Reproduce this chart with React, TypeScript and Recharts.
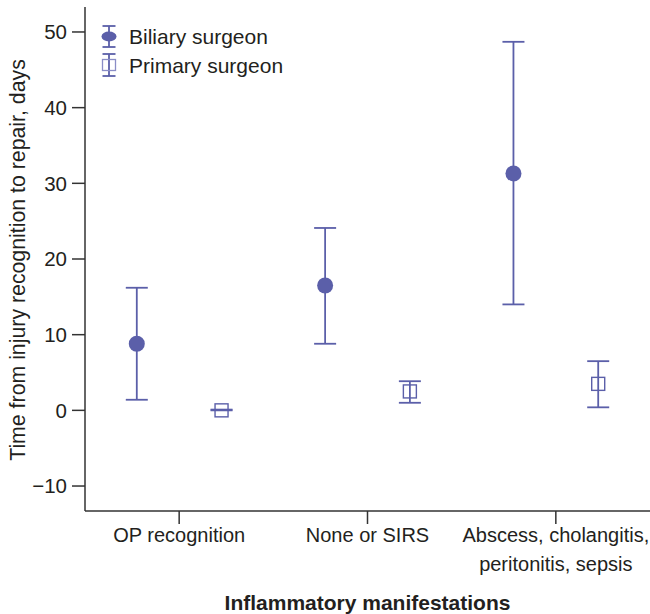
import React from 'react';
import { ScatterChart, Scatter, XAxis, YAxis, ErrorBar, Legend } from 'recharts';

const categories = ['OP recognition', 'None or SIRS', 'Abscess, cholangitis, peritonitis, sepsis'];
const categoryLines = [['OP recognition'], ['None or SIRS'], ['Abscess, cholangitis,', 'peritonitis, sepsis']];

const biliaryMean = [8.8, 16.5, 31.3];
const biliaryLow = [1.4, 8.8, 14.0];
const biliaryHigh = [16.2, 24.1, 48.7];

const primaryMean = [0.0, 2.5, 3.5];
const primaryLow = [0.0, 1.0, 0.4];
const primaryHigh = [0.1, 3.85, 6.5];

const yTicks = [-10, 0, 10, 20, 30, 40, 50];
const seriesNames = ['Biliary surgeon', 'Primary surgeon'];

const COLOR = '#5b5fa9';
const TEXT = '#231f20';
const AXIS = '#333333';
const FONT = '"Liberation Sans", Arial, Helvetica, sans-serif';
const OFFSET = 0.225;

const build = (mean: number[], low: number[], high: number[], shift: number) =>
  categories.map((c, i) => ({
    x: i + 0.5 + shift,
    y: mean[i],
    err: [mean[i] - low[i], high[i] - mean[i]],
    name: c,
  }));

const biliaryData = build(biliaryMean, biliaryLow, biliaryHigh, -OFFSET);
const primaryData = build(primaryMean, primaryLow, primaryHigh, OFFSET);

const CircleShape = (props: any) => {
  const { cx, cy } = props;
  return <circle cx={cx} cy={cy} r={8} fill={COLOR} />;
};

const SquareShape = (props: any) => {
  const { cx, cy } = props;
  return <rect x={cx - 6.5} y={cy - 6.5} width={13} height={13} fill="none" stroke={COLOR} strokeWidth={1.4} />;
};

const XTick = (props: any) => {
  const { x, y, payload } = props;
  const idx = Math.round(payload.value - 0.5);
  const lines = categoryLines[idx] || [];
  return (
    <g>
      {lines.map((l, k) => (
        <text key={k} x={x} y={y + 14 + k * 29} textAnchor="middle" fontSize={20} fill={TEXT} fontFamily={FONT}>
          {l}
        </text>
      ))}
    </g>
  );
};

const renderLegend = () => (
  <svg width={200} height={70} style={{ display: 'block', overflow: 'visible' }}>
    <g stroke={COLOR} strokeWidth={1.8}>
      <line x1={109} y1={26} x2={109} y2={47} />
      <line x1={102.5} y1={26} x2={115.5} y2={26} />
      <line x1={102.5} y1={47} x2={115.5} y2={47} />
      <line x1={109} y1={54} x2={109} y2={76} />
      <line x1={102.5} y1={54} x2={115.5} y2={54} />
      <line x1={102.5} y1={76} x2={115.5} y2={76} />
    </g>
    <ellipse cx={109} cy={36.5} rx={7.5} ry={5} fill={COLOR} />
    <rect x={102.5} y={59.5} width={13} height={11} fill="none" stroke="#8a8dc6" strokeWidth={1.3} />
    <text x={129} y={44} fontSize={21} fill={TEXT} fontFamily={FONT}>{seriesNames[0]}</text>
    <text x={129} y={73} fontSize={21} fill={TEXT} fontFamily={FONT}>{seriesNames[1]}</text>
  </svg>
);

export default function App() {
  return (
    <div style={{ position: 'absolute', left: 0, top: 0, width: 650, height: 614, background: '#fff' }}>
      <ScatterChart width={650} height={614} margin={{ top: 7, right: 0, bottom: 0, left: 0 }}>
        <XAxis
          type="number"
          dataKey="x"
          domain={[0, 3]}
          ticks={[0.5, 1.5, 2.5]}
          allowDataOverflow
          height={103}
          tickSize={13}
          tickMargin={4}
          tick={<XTick />}
          axisLine={{ stroke: AXIS, strokeWidth: 1.5 }}
          tickLine={{ stroke: AXIS, strokeWidth: 1.5 }}
          label={{
            content: (p: any) => {
              const vb = p.viewBox || {};
              return (
                <text x={vb.x + vb.width / 2} y={vb.y + 99} textAnchor="middle" fontSize={21} fontWeight="bold" fill={TEXT} fontFamily={FONT}>
                  Inflammatory manifestations
                </text>
              );
            },
          }}
        />
        <YAxis
          type="number"
          dataKey="y"
          domain={[-13.3, 53.3]}
          ticks={yTicks}
          allowDataOverflow
          width={85}
          tickSize={13}
          tickMargin={5}
          tick={{ fontSize: 20.5, fill: TEXT, fontFamily: FONT }}
          axisLine={{ stroke: AXIS, strokeWidth: 1.5 }}
          tickLine={{ stroke: AXIS, strokeWidth: 1.5 }}
          tickFormatter={(v: number) => (v < 0 ? '\u2212' + Math.abs(v) : String(v))}
          label={{
            content: () => {
              const cy = 260;
              return (
                <text x={18} y={cy} transform={`rotate(-90, 18, ${cy})`} textAnchor="middle" dominantBaseline="central" fontSize={21.3} fill={TEXT} fontFamily={FONT}>
                  Time from injury recognition to repair, days
                </text>
              );
            },
          }}
        />
        <Legend layout="vertical" align="center" verticalAlign="middle" content={renderLegend} wrapperStyle={{ left: 0, top: 0, width: 300 }} />
        <Scatter name={seriesNames[0]} data={biliaryData} shape={<CircleShape />} isAnimationActive={false}>
          <ErrorBar dataKey="err" direction="y" width={11} stroke={COLOR} strokeWidth={1.8} isAnimationActive={false} />
        </Scatter>
        <Scatter name={seriesNames[1]} data={primaryData} shape={<SquareShape />} isAnimationActive={false}>
          <ErrorBar dataKey="err" direction="y" width={11} stroke={COLOR} strokeWidth={1.8} isAnimationActive={false} />
        </Scatter>
      </ScatterChart>
    </div>
  );
}
